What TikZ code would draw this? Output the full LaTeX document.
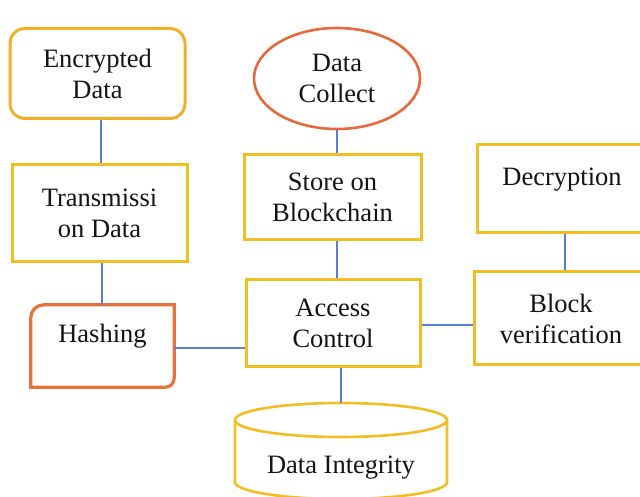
\documentclass[tikz,border=0pt]{standalone}
\usepackage{fontspec}
\setmainfont{Liberation Serif}
\usetikzlibrary{calc,shapes.geometric}
\definecolor{boxyellow}{HTML}{F2BE22}
\definecolor{encyellow}{HTML}{F0B02C}
\definecolor{hashorange}{HTML}{E8733A}
\definecolor{ellorange}{HTML}{E8683E}
\definecolor{linkblue}{HTML}{5B7FD8}
\tikzset{
  txt/.style={font=\fontsize{26.5}{31}\selectfont, align=center, text=black!92},
  ybox/.style={txt, draw=boxyellow, line width=3pt, fill=white, inner sep=0pt},
  hashbox/.style={line width=3.2pt, draw=hashorange, fill=white},
  link/.style={draw=linkblue, line width=1.3pt},
}
\begin{document}
\begin{tikzpicture}[x=1pt,y=1pt]
\useasboundingbox (0,0) rectangle (640,497);
\clip (0,0) rectangle (640,497);
\fill[white] (0,0) rectangle (640,497);

% left column
\node[ybox, draw=encyellow, rounded corners=15pt, minimum width=175, minimum height=90] (enc) at (97.5,423.5) {Encrypted\\Data};
\node[ybox, minimum width=175, minimum height=97] (trans) at (99.5,283.5) {Transmissi\\on Data};
\node[minimum width=143, minimum height=82, inner sep=0pt] (hash) at (102.5,151) {};
\draw[hashbox] (hash.south west) -- ([yshift=-13pt]hash.north west)
  arc[start angle=180,end angle=90,radius=13pt] -- (hash.north east)
  -- ([yshift=9pt]hash.south east) arc[start angle=0,end angle=-90,radius=9pt] -- cycle;
\node[txt] (hashtxt) at ([yshift=10pt]hash.center) {Hashing};

% middle column
\node[txt, draw=ellorange, line width=2.6pt, fill=white, ellipse, minimum width=166, minimum height=101, inner sep=0pt] (collect) at (337,418.5) {Data\\Collect};
\node[ybox, minimum width=177, minimum height=85] (store) at (332.5,299.5) {Store on\\Blockchain};
\node[ybox, minimum width=174, minimum height=87] (access) at (333,173.5) {Access\\Control};

% cylinder
\node[minimum width=212, minimum height=77, inner sep=0pt] (integ) at (341,55.5) {};
\coordinate (integtop) at (341,94);
\fill[white] (235,77) -- (235,15) arc[start angle=180,end angle=360,x radius=106,y radius=17] -- (447,77) -- cycle;
\draw[boxyellow, line width=2.6pt] (235,77) -- (235,15) arc[start angle=180,end angle=360,x radius=106,y radius=17] -- (447,77);
\draw[boxyellow, line width=2.6pt, fill=white] (341,77) ellipse[x radius=106,y radius=17];
\node[txt] (integtxt) at (341,29) {Data Integrity};

% right column
\node[minimum width=170, minimum height=88, inner sep=0pt, draw=boxyellow, line width=3pt, fill=white] (decr) at (562,308) {};
\node[txt] (decrtxt) at ([yshift=9pt]decr.center) {Decryption};
\node[ybox, minimum width=174, minimum height=93] (blockv) at (561,178.5) {Block\\verification};

% connectors
\draw[link] (enc.south -| 101,0) -- (trans.north -| 101,0);
\draw[link] (trans.south -| 102,0) -- (hash.north -| 102,0);
\draw[link] ([yshift=-2pt]hash.east) -- ([yshift=-2pt]hash.east -| access.west);
\draw[link] (collect.south -| 337,0) -- (store.north -| 337,0);
\draw[link] (store.south -| 337,0) -- (access.north -| 337,0);
\draw[link] (access.south -| integtop) -- (integtop);
\draw[link] ([yshift=-1.5pt]access.east) -- ([yshift=-1.5pt]access.east -| blockv.west);
\draw[link] (decr.south -| 565,0) -- (blockv.north -| 565,0);
\end{tikzpicture}
\end{document}
